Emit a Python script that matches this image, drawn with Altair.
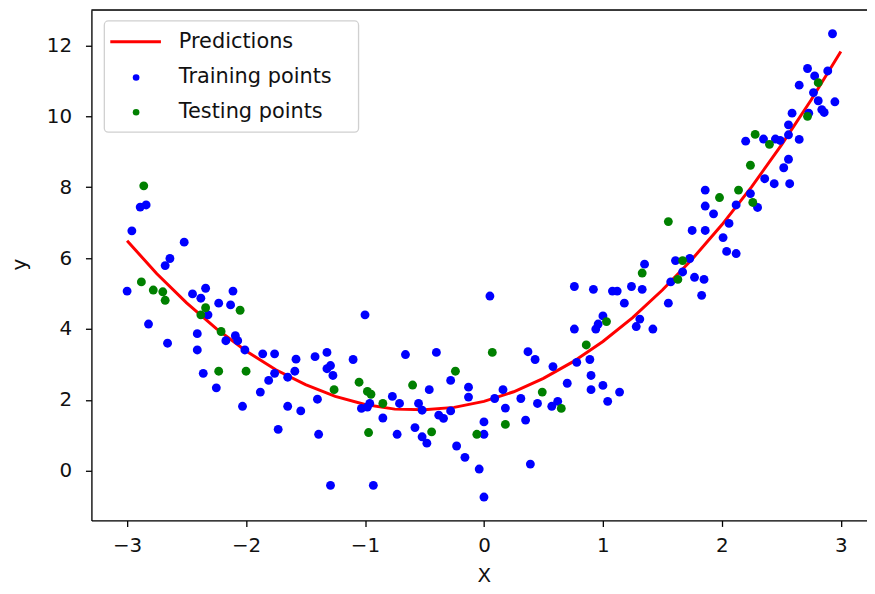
import altair as alt
import pandas as pd

# ---------------- data ----------------
train_x = [-2.89, -2.84, -2.96, -2.52, -2.64, -2.68, -3.00, -2.45, -2.38, -2.34,
           -2.11, -2.23, -2.13, -2.32, -2.82, -2.41, -2.09, -2.17, -2.07, -2.66,
           -2.41, -2.01, -1.86, -1.76, -2.36, -1.76, -1.65, -1.81, -2.25, -1.88,
           -2.03, -1.65, -1.73,
           -1.00, -1.58, -1.42, -1.32, -1.59, -1.29, -1.32, -1.27, -1.10, -1.40,
           -1.54, -0.96, -1.03, -0.98, -0.77, -0.71, -0.85, -1.39, -0.73, -0.66,
           -0.40, -0.46, -0.28, -0.55, -0.52, -0.38, -0.34, -0.28, -0.58, -0.52,
           -0.48, -0.23, -0.16, -0.04, 0.00, -0.13, -0.13, 0.00, 0.00, -1.29,
           -0.93, 0.05, 0.09,
           0.16, 0.18, 0.31, 0.35, 0.39, 0.37, 0.43, 0.45, 0.57, 0.62,
           0.58, 0.70, 0.76, 0.76, 0.78, 0.89, 0.90, 0.90, 1.00, 1.04,
           1.14, 0.92, 0.94, 0.96, 1.00, 1.08, 1.12, 1.18, 1.24, 1.33,
           1.28, 1.31, 1.42, 1.35, 1.55, 1.57,
           2.93, 2.72, 2.78, 2.89, 2.65, 2.77, 2.81, 2.84, 2.86, 2.95,
           2.73, 2.59, 2.56, 2.56, 2.65, 2.49, 2.45, 2.35, 2.20, 2.56,
           2.52, 2.36, 2.44, 2.57, 1.86, 2.24, 2.30, 2.12, 1.86, 1.93,
           2.06, 1.75, 1.86, 2.01, 2.04, 2.12, 1.61, 1.73, 1.67, 1.77,
           1.85, 1.83]
train_y = [7.44, 7.50, 6.77, 6.45, 5.99, 5.79, 5.07, 4.99, 4.87, 5.15,
           5.07, 4.73, 4.68, 4.40, 4.14, 3.87, 3.81, 3.67, 3.67, 3.60,
           3.41, 3.41, 3.30, 3.30, 2.75, 2.75, 2.64, 2.55, 2.34, 2.22,
           1.82, 1.82, 1.17,
           4.40, 3.15, 3.22, 3.34, 2.81, 2.97, 2.88, 2.69, 3.14, 2.02,
           1.69, 1.90, 1.76, 1.80, 2.10, 1.90, 1.49, 1.03, 1.03, 3.28,
           3.34, 2.29, 2.55, 1.90, 1.71, 1.57, 1.48, 1.69, 1.22, 0.96,
           0.78, 0.70, 0.38, 0.05, -0.74, 2.36, 2.08, 1.03, 1.38, -0.41,
           -0.41, 4.93, 2.04,
           2.29, 1.77, 2.04, 1.43, 0.19, 3.36, 3.14, 1.90, 1.82, 1.96,
           2.94, 2.47, 5.20, 4.00, 3.06, 3.14, 2.69, 2.29, 2.41, 1.96,
           2.22, 5.12, 4.00, 4.14, 4.37, 5.07, 5.07, 4.73, 5.20, 5.12,
           4.07, 4.28, 4.00, 5.83, 4.73, 5.33,
           12.33, 11.35, 11.14, 11.28, 10.88, 10.67, 10.44, 10.19, 10.11, 10.41,
           10.09, 10.09, 9.76, 9.48, 9.35, 9.32, 9.36, 9.36, 9.30, 8.79,
           8.55, 8.24, 8.10, 8.10, 7.92, 7.82, 7.43, 7.50, 7.47, 7.25,
           6.98, 6.78, 6.78, 6.58, 6.19, 6.13, 5.93, 5.99, 5.61, 5.46,
           5.40, 4.95]

test_x = [-2.86, -2.88, -2.78, -2.70, -2.68, -2.34, -2.38, -2.05, -2.21, -2.23,
          -2.00, -1.26, -1.05, -0.98, -0.95, -0.85, -0.97, -0.60, -0.44, -0.24,
          -0.06, 0.07, 0.18, 0.49, 0.65, 0.86, 1.03, 1.33, 1.55, 1.67,
          1.63, 1.98, 2.14, 2.26, 2.24, 2.28, 2.40, 2.72, 2.81]
test_y = [8.04, 5.33, 5.10, 5.05, 4.81, 4.60, 4.40, 4.53, 3.93, 2.81,
          2.81, 2.29, 2.50, 2.24, 2.16, 1.90, 1.08, 2.42, 1.10, 2.81,
          1.03, 3.34, 1.31, 2.22, 1.76, 3.55, 4.21, 5.58, 7.03, 5.93,
          5.40, 7.71, 7.92, 7.57, 8.62, 9.49, 9.21, 10.00, 10.95]

pred_x = [-3.00, -2.75, -2.50, -2.25, -2.00, -1.75, -1.50, -1.25, -1.00, -0.75,
          -0.50, -0.25, 0.00, 0.25, 0.50, 0.75, 1.00, 1.25, 1.50, 1.75,
          2.00, 2.25, 2.50, 2.75, 3.00]
pred_y = [6.49, 5.56, 4.74, 4.01, 3.38, 2.85, 2.43, 2.10, 1.87, 1.74,
          1.72, 1.79, 1.96, 2.23, 2.61, 3.08, 3.65, 4.32, 5.10, 5.97,
          6.94, 8.01, 9.19, 10.46, 11.83]

x_ticks = [-3, -2, -1, 0, 1, 2, 3]
y_ticks = [0, 2, 4, 6, 8, 10, 12]
legend_labels = ["Predictions", "Training points", "Testing points"]
series_colors = ["#ff0000", "#0000ff", "#008000"]

# ---------------- layout ----------------
W, H = 781, 514
FONT = "DejaVu Sans"

train_df = pd.DataFrame({"X": train_x, "y": train_y})
test_df = pd.DataFrame({"X": test_x, "y": test_y})
pred_df = pd.DataFrame({"X": pred_x, "y": pred_y})
one = pd.DataFrame({"k": [0]})

xscale = alt.Scale(domain=[-3.3, 3.22], nice=False, zero=False)
yscale = alt.Scale(domain=[-1.4, 13.0], nice=False, zero=False)

xaxis = alt.Axis(values=x_ticks, format="d", title="X", grid=False, tickSize=6, tickWidth=1.3,
                 tickColor="#000", domainColor="#000", domainWidth=1.3,
                 labelFontSize=20, labelFont=FONT, labelColor="#111", labelPadding=9,
                 titleFontSize=20, titleFont=FONT, titleFontWeight="normal", titleColor="#111",
                 titleX=395, titleY=55, titleBaseline="middle", titleAlign="center")
yaxis = alt.Axis(values=y_ticks, format="d", title="y", grid=False, tickSize=6, tickWidth=1.3,
                 tickColor="#000", domainColor="#000", domainWidth=1.3,
                 labelFontSize=20, labelFont=FONT, labelColor="#111", labelPadding=14,
                 titleFontSize=20, titleFont=FONT, titleFontWeight="normal", titleColor="#111",
                 titleX=-72, titleY=256, titleBaseline="middle", titleAlign="center", titleAngle=-90)

line = alt.Chart(pred_df).mark_line(color=series_colors[0], strokeWidth=3).encode(
    x=alt.X("X:Q", scale=xscale, axis=xaxis),
    y=alt.Y("y:Q", scale=yscale, axis=yaxis),
)
train = alt.Chart(train_df).mark_circle(color=series_colors[1], size=80, opacity=1).encode(
    x=alt.X("X:Q", scale=xscale), y=alt.Y("y:Q", scale=yscale)
)
test = alt.Chart(test_df).mark_circle(color=series_colors[2], size=80, opacity=1).encode(
    x=alt.X("X:Q", scale=xscale), y=alt.Y("y:Q", scale=yscale)
)

top_frame = alt.Chart(one).mark_rule(color="#000", strokeWidth=1.3).encode(
    x=alt.value(0), x2=alt.value(W), y=alt.value(0)
)

# legend box (decoration)
leg_box = alt.Chart(one).mark_rect(fill="white", stroke="#cccccc", strokeWidth=1.3,
                                   cornerRadius=4, opacity=0.9).encode(
    x=alt.value(13), x2=alt.value(269), y=alt.value(11), y2=alt.value(123)
)
leg_line = alt.Chart(one).mark_rule(color=series_colors[0], strokeWidth=3).encode(
    x=alt.value(19), x2=alt.value(70), y=alt.value(32)
)
leg_dot1 = alt.Chart(one).mark_circle(color=series_colors[1], size=45, opacity=1).encode(
    x=alt.value(45), y=alt.value(68)
)
leg_dot2 = alt.Chart(one).mark_circle(color=series_colors[2], size=45, opacity=1).encode(
    x=alt.value(45), y=alt.value(103)
)
leg_texts = [
    alt.Chart(one).mark_text(align="left", baseline="middle", fontSize=21, font=FONT,
                             color="#111").encode(
        x=alt.value(88), y=alt.value(yy), text=alt.value(lbl))
    for lbl, yy in zip(legend_labels, [32, 68, 103])
]

chart = alt.layer(line, train, test, top_frame, leg_box, leg_line, leg_dot1, leg_dot2,
                  *leg_texts).properties(
    width=W, height=H,
    autosize=alt.AutoSizeParams(type="none"),
    padding={"left": 84, "top": 0, "right": 0, "bottom": 64},
).configure_view(stroke=None).configure(background="white")

chart.save("out.html", embed_options={"renderer": "svg", "actions": False})
